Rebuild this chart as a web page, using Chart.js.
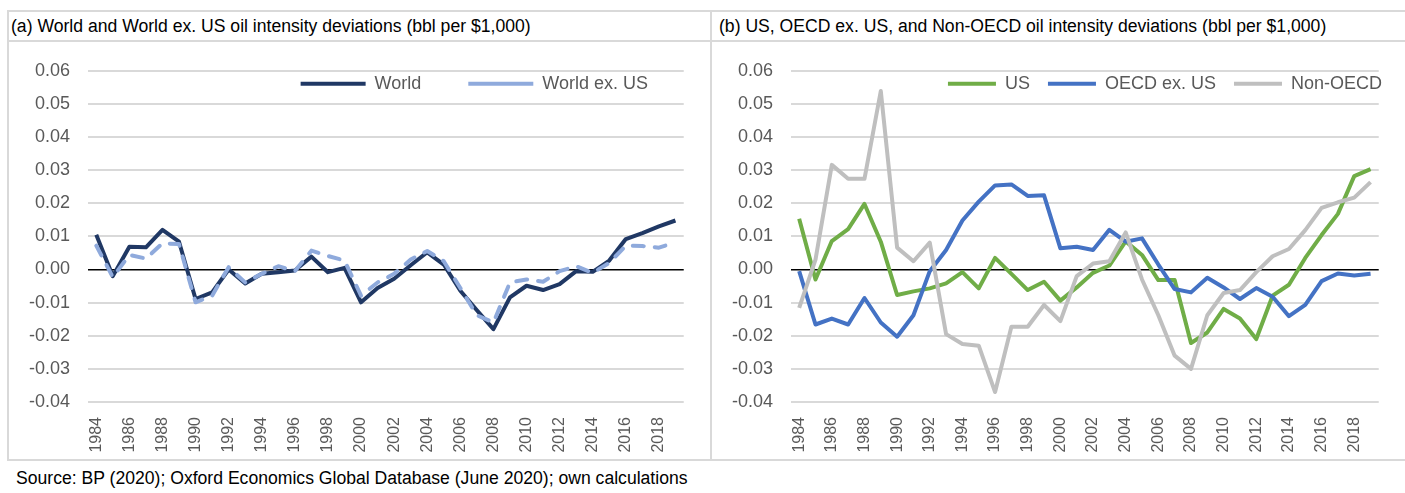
<!DOCTYPE html>
<html>
<head>
<meta charset="utf-8">
<script src="https://cdn.jsdelivr.net/npm/chart.js@4.4.1/dist/chart.umd.min.js"></script>
<style>
  body { margin: 0; width: 1405px; height: 493px; background: #fff; position: relative; overflow: hidden;
         font-family: "Liberation Sans", Arial, sans-serif; }
  .rule { position: absolute; background: #d9d9d9; }
  .title { position: absolute; top: 12px; height: 28px; line-height: 28px; font-size: 17.6px; color: #000; white-space: nowrap; }
  .source { position: absolute; left: 16px; top: 464px; line-height: 28px; font-size: 17.6px; color: #000; white-space: nowrap; }
  canvas { position: absolute; }
</style>
</head>
<body>
<div class="rule" style="left:7px; top:10px; width:1398px; height:2px;"></div>
<div class="rule" style="left:7px; top:40px; width:1398px; height:2px;"></div>
<div class="rule" style="left:7px; top:459px; width:1398px; height:2px;"></div>
<div class="rule" style="left:7px; top:10px; width:2px; height:451px;"></div>
<div class="rule" style="left:710px; top:10px; width:2px; height:451px;"></div>

<div class="title" style="left:11px;">(a) World and World ex. US oil intensity deviations (bbl per $1,000)</div>
<div class="title" style="left:719px;">(b) US, OECD ex. US, and Non-OECD oil intensity deviations (bbl per $1,000)</div>
<div class="source">Source: BP (2020); Oxford Economics Global Database (June 2020); own calculations</div>

<div style="position:absolute; left:9px; top:42px; width:701px; height:417px;"><canvas id="chartA"></canvas></div>
<div style="position:absolute; left:712px; top:42px; width:693px; height:417px;"><canvas id="chartB"></canvas></div>

<script>
const years = ["1984","1985","1986","1987","1988","1989","1990","1991","1992","1993",
  "1994","1995","1996","1997","1998","1999","2000","2001","2002","2003",
  "2004","2005","2006","2007","2008","2009","2010","2011","2012","2013",
  "2014","2015","2016","2017","2018","2019"];

const world = [0.0105, -0.0020, 0.0069, 0.0067, 0.0120, 0.0084, -0.0089, -0.0069, 0.0000, -0.0042,
  -0.0013, -0.0008, -0.0003, 0.0039, -0.0008, 0.0005, -0.0099, -0.0056, -0.0028, 0.0013,
  0.0052, 0.0015, -0.0064, -0.0123, -0.0180, -0.0084, -0.0049, -0.0062, -0.0044, -0.0005,
  -0.0007, 0.0027, 0.0092, 0.0110, 0.0130, 0.0148];

const worldExUS = [0.0072, -0.0023, 0.0044, 0.0033, 0.0079, 0.0077, -0.0099, -0.0079, 0.0007, -0.0039,
  -0.0013, 0.0010, -0.0005, 0.0057, 0.0041, 0.0027, -0.0079, -0.0039, -0.0013, 0.0030,
  0.0056, 0.0025, -0.0056, -0.0138, -0.0160, -0.0039, -0.0030, -0.0037, -0.0005, 0.0010,
  -0.0010, 0.0020, 0.0072, 0.0071, 0.0066, 0.0082];

const us = [0.0153, -0.0030, 0.0086, 0.0122, 0.0198, 0.0084, -0.0077, -0.0066, -0.0057, -0.0042,
  -0.0008, -0.0057, 0.0035, -0.0013, -0.0062, -0.0037, -0.0094, -0.0054, -0.0010, 0.0012,
  0.0085, 0.0044, -0.0032, -0.0032, -0.0222, -0.0190, -0.0119, -0.0148, -0.0210, -0.0079,
  -0.0046, 0.0035, 0.0104, 0.0168, 0.0282, 0.0303];

const oecdExUS = [-0.0005, -0.0166, -0.0148, -0.0166, -0.0086, -0.0160, -0.0203, -0.0138, -0.0005, 0.0059,
  0.0148, 0.0205, 0.0254, 0.0257, 0.0222, 0.0224, 0.0064, 0.0069, 0.0059, 0.0120,
  0.0084, 0.0094, 0.0015, -0.0059, -0.0069, -0.0025, -0.0054, -0.0089, -0.0056, -0.0082,
  -0.0141, -0.0107, -0.0035, -0.0012, -0.0018, -0.0013];

const nonOecd = [-0.0116, 0.0030, 0.0316, 0.0274, 0.0274, 0.0539, 0.0066, 0.0025, 0.0081, -0.0195,
  -0.0225, -0.0230, -0.0370, -0.0173, -0.0173, -0.0107, -0.0156, -0.0020, 0.0018, 0.0025,
  0.0112, -0.0030, -0.0138, -0.0260, -0.0300, -0.0138, -0.0071, -0.0062, -0.0008, 0.0040,
  0.0062, 0.0119, 0.0186, 0.0203, 0.0217, 0.0264];

const yMin = -0.04;
const yMax = 0.06;
const yStep = 0.01;

const fontFamily = '"Liberation Sans", Arial, sans-serif';
const tickColor = "#595959";
const legendFontSize = 18;

// legend sits inside the plot: it takes no layout height and is nudged into place
const legendShift = {
  id: "legendShift",
  beforeLayout(chart) {
    const legend = chart.legend;
    if (legend && !legend._noHeight) {
      const fit = legend.fit.bind(legend);
      legend.fit = function () {
        fit();
        this._realHeight = this.height;
        this.height = 0;
      };
      legend._noHeight = true;
    }
  },
  afterLayout(chart, args, opts) {
    const legend = chart.legend;
    if (!legend) return;
    legend.left += opts.dx;
    legend.right += opts.dx;
    legend.top += opts.dy;
    legend.height = legend._realHeight || 0;
    legend.bottom = legend.top + legend.height;
  }
};

function lineSet(label, data, color, order, dash) {
  return {
    label: label,
    data: data,
    borderColor: color,
    backgroundColor: color,
    borderWidth: 4,
    borderDash: dash || [],
    borderCapStyle: dash ? "round" : "butt",
    borderJoinStyle: "round",
    pointRadius: 0,
    tension: 0,
    fill: false,
    order: order
  };
}

function makeOptions(rightPad, legendPad, sampleWidth, dx) {
  return {
    responsive: true,
    maintainAspectRatio: false,
    animation: false,
    layout: { padding: { top: 24, right: rightPad, left: 0, bottom: 0 } },
    plugins: {
      legend: {
        position: "top",
        align: "end",
        labels: {
          usePointStyle: true,
          pointStyle: "line",
          pointStyleWidth: sampleWidth,
          padding: legendPad,
          color: tickColor,
          font: { family: fontFamily, size: legendFontSize },
          sort: (a, b) => a.datasetIndex - b.datasetIndex
        }
      },
      tooltip: { enabled: false },
      legendShift: { dx: dx, dy: 13 - legendPad - legendFontSize / 2 }
    },
    scales: {
      x: {
        type: "category",
        offset: true,
        grid: { display: false, drawTicks: false },
        border: { display: false },
        ticks: {
          autoSkip: false,
          minRotation: 90,
          maxRotation: 90,
          padding: 15,
          color: tickColor,
          font: { family: fontFamily, size: 16 },
          callback: (value, index) => (index % 2 === 0 ? years[index] : "")
        },
        afterFit: scale => { scale.height = 57; }
      },
      y: {
        min: yMin,
        max: yMax,
        grid: {
          drawTicks: false,
          color: ctx => (ctx.tick && Math.abs(ctx.tick.value) < 1e-9 ? "#000000" : "#d9d9d9"),
          lineWidth: ctx => (ctx.tick && Math.abs(ctx.tick.value) < 1e-9 ? 1.5 : 2)
        },
        border: { display: false },
        ticks: {
          stepSize: yStep,
          padding: 18,
          color: tickColor,
          font: { family: fontFamily, size: 18 },
          callback: value => value.toFixed(2)
        },
        afterFit: scale => { scale.width = 79; }
      }
    }
  };
}

new Chart(document.getElementById("chartA"), {
  type: "line",
  data: {
    labels: years,
    datasets: [
      lineSet("World", world, "#203864", 2),
      lineSet("World ex. US", worldExUS, "#8faadc", 1, [11, 11])
    ]
  },
  options: makeOptions(25, 47, 65, 10),
  plugins: [legendShift]
});

new Chart(document.getElementById("chartB"), {
  type: "line",
  data: {
    labels: years,
    datasets: [
      lineSet("US", us, "#70ad47", 3),
      lineSet("OECD ex. US", oecdExUS, "#4472c4", 2),
      lineSet("Non-OECD", nonOecd, "#bfbfbf", 1)
    ]
  },
  options: makeOptions(17, 18, 48, 12),
  plugins: [legendShift]
});
</script>
</body>
</html>
